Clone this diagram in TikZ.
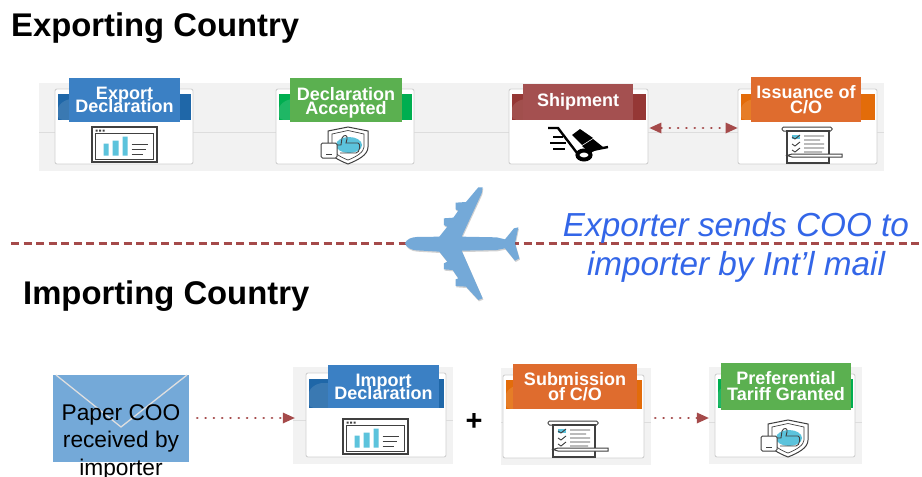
\documentclass[tikz,border=0pt]{standalone}
\usepackage{fontspec}
\setmainfont{Liberation Sans}
\usetikzlibrary{arrows.meta}
\definecolor{stripgrey}{HTML}{F2F2F2}
\definecolor{ruleg}{HTML}{DDDDDD}
\definecolor{cardedge}{HTML}{D0D0D0}
\definecolor{bandblue}{HTML}{1F67A8}
\definecolor{labblue}{HTML}{3B80C4}
\definecolor{bandgreen}{HTML}{00AE50}
\definecolor{labgreen}{HTML}{5BB050}
\definecolor{bandred}{HTML}{953735}
\definecolor{labred}{HTML}{A45050}
\definecolor{bandorange}{HTML}{E36C0A}
\definecolor{laborange}{HTML}{DF6C2E}
\definecolor{planeblue}{HTML}{74A9D8}
\definecolor{linered}{HTML}{A54A4A}
\definecolor{iconcyan}{HTML}{5CC3DC}
\definecolor{icondark}{HTML}{404040}
\definecolor{textblue}{HTML}{3366E8}
\newcommand\labelfont[1]{\bfseries\fontsize{18}{#1}\selectfont\lineskiplimit=-100pt\relax}
\tikzset{
  x=1pt,y=-1pt,
  stripbox/.style={fill=stripgrey,draw=none,inner sep=0pt},
  cardbox/.style={fill=white,draw=cardedge,line width=0.9pt,rounded corners=2pt,inner sep=0pt},
  labelbox/.style={draw=none,inner sep=0pt,text=white,align=center},
  titletext/.style={anchor=base west,inner sep=0pt,font=\bfseries\fontsize{32.8}{36}\selectfont},
  bluetext/.style={anchor=base,inner sep=0pt,text=textblue,font=\itshape\fontsize{33.3}{36}\selectfont},
  dotline/.style={draw=linered,line width=2.6pt,line cap=round,dash pattern=on 0.2pt off 8.1pt},
  redtip/.style={-{Triangle[length=12pt,width=11pt,fill=linered,color=linered,line width=0pt,sep=0pt]}},
  bothtip/.style={{Triangle[length=12pt,width=11pt,fill=linered,color=linered,line width=0pt]}-{Triangle[length=12pt,width=11pt,fill=linered,color=linered,line width=0pt]}},
  borderline/.style={draw=linered,line width=3pt,dash pattern=on 8pt off 4.5pt},
}
% name, style, x0, y0, x1, y1, content
\newcommand\rectnode[7]{\node[#2,minimum width={(#5-#3)*1pt},minimum height={(#6-#4)*1pt}] (#1) at ({(#3+#5)/2},{(#4+#6)/2}) {#7};}
\newcommand\screenicon[2]{\begin{scope}[shift={(#1,#2)}]
  \draw[icondark,line width=1.2pt,fill=white] (-32.5,-17.5) rectangle (32.5,17.5);
  \draw[icondark,line width=1.6pt] (-29,-11) rectangle (29,15);
  \fill[icondark] (-29,-15) rectangle (-27,-13) (-25.5,-15) rectangle (-23.5,-13) (-22,-15) rectangle (-20,-13);
  \fill[iconcyan] (-21,11) rectangle (-16,-1) (-12,11) rectangle (-6,-4) (-2,11) rectangle (3,-8);
  \draw[icondark,line width=1pt] (7,-0.5) -- (23,-0.5) (7,4.5) -- (21,4.5) (7,9.5) -- (18,9.5);
\end{scope}}
\newcommand\shieldicon[2]{\begin{scope}[shift={(#1,#2)}]
  \draw[icondark,line width=1pt,fill=white] (-20,-14) -- (0,-18) -- (20,-14) -- (20,2) .. controls (20,10) and (10,15) .. (0,19) .. controls (-10,15) and (-20,10) .. (-20,2) -- cycle;
  \draw[icondark,line width=0.7pt] (-16,-11) -- (0,-14.5) -- (16,-11) -- (16,2) .. controls (16,7) and (8,12) .. (0,15) .. controls (-8,12) and (-16,7) .. (-16,2) -- cycle;
  \fill[iconcyan] (1,0) ellipse (13 and 8);
  \draw[icondark,line width=0.9pt] (-11,0) -- (-7,0) -- (-6,-7) .. controls (-4,-11) and (0,-10) .. (-1,-6) -- (-2,-2) -- (10,-2) .. controls (13,-2) and (12,8) .. (8,8) -- (-8,8);
  \draw[icondark,line width=1pt,fill=white,rounded corners=1.5pt] (-27,-2) rectangle (-11,13);
  \draw[icondark,line width=0.8pt] (-22,9) -- (-16,9);
\end{scope}}
\newcommand\scrollicon[2]{\begin{scope}[shift={(#1,#2)}]
  \draw[icondark,line width=1pt,fill=white,rounded corners=1.5pt] (-26,-18) -- (24,-18) -- (24,-14) -- (-26,-14) -- cycle;
  \draw[icondark,line width=1.2pt,fill=white] (-21,-14) -- (21,-14) -- (21,18) -- (-21,18) -- cycle;
  \fill[iconcyan] (-16,-10) rectangle (-8,-6);
  \draw[icondark,line width=0.9pt] (-16,-8) -- (-13,-6) -- (-8,-10) (-16,-1) -- (-13,1) -- (-8,-3) (-16,5) -- (-13,7) -- (-8,3)
    (-4,-9) -- (16,-9) (-4,-5) -- (12,-5) (-4,-1) -- (16,-1) (-4,3) -- (16,3) (-4,7) -- (14,7);
  \draw[icondark,line width=1pt,fill=white] (-16,9) -- (34,9) -- (34,12) -- (-16,12) -- (-21,10.5) -- cycle;
\end{scope}}
\newcommand\carticon[2]{\begin{scope}[shift={(#1,#2)}]
  \fill[white] (-33,-19) rectangle (34,19);
  \draw[black,line width=2.4pt] (-30,-16) -- (-20,-16) -- (-1,9) -- (30,3);
  \fill[black] (-6,-9) -- (2,-15) -- (15,-6) -- (4,1) -- cycle;
  \fill[black] (4,2) -- (15,-5) -- (25,3) -- (12,9) -- cycle;
  \draw[black,line width=4pt,fill=white] (6,11) ellipse (6.5 and 4.5);
  \draw[black,line width=1.8pt] (-25,-7) -- (-15,-7) (-28,-1) -- (-12,-1) (-25,5) -- (-13,5);
\end{scope}}
% card: id, L,T,R,B, band colour, band top offset, band bottom offset
\newcommand\cardbase[8]{\rectnode{#1}{cardbox}{#2}{#3}{#4}{#5}{}
  \fill[#6] ({#2+2.5},{#3+#7}) rectangle ({#4-2.5},{#3+#8});
  \fill[white,opacity=0.12,rounded corners=5pt] ({#2+2.5},{#3+#8}) -- ({#2+2.5},{#3+17}) -- ({#2+12},{#3+10}) -- ({#2+30},{#3+10}) -- ({#2+30},{#3+#8}) -- cycle;}
\begin{document}
\begin{tikzpicture}
\useasboundingbox (0,0) rectangle (922,477);
\fill[white] (0,0) rectangle (922,477);

% titles
\node[titletext] (exptitle) at (11,36) {Exporting Country};
\node[titletext] (imptitle) at (23,304) {Importing Country};

% top strip
\rectnode{topstrip}{stripbox}{39}{83}{884}{171}{}
\draw[ruleg,line width=0.9pt] (39,132.5) -- (884,132.5);

\cardbase{cardA}{55}{89}{193}{164}{bandblue}{4.5}{31}
\rectnode{labA}{labelbox,fill=labblue,font=\labelfont{13}}{69}{78}{180}{122}{Export\\Declaration}
\screenicon{124.5}{144.5}

\cardbase{cardB}{276}{89}{414}{164}{bandgreen}{4.5}{31}
\rectnode{labB}{labelbox,fill=labgreen,font=\labelfont{14}}{290}{78}{402}{122}{\rule{0pt}{18pt}Declaration\\Accepted}
\shieldicon{348}{145}

\cardbase{cardC}{509}{89}{648}{164}{bandred}{4.5}{31}
\rectnode{labC}{labelbox,fill=labred,font=\labelfont{14}}{523}{84}{633}{120}{Shipment}
\carticon{578}{144}

\cardbase{cardD}{738}{89}{877}{164}{bandorange}{4.5}{31}
\rectnode{labD}{labelbox,fill=laborange,font=\labelfont{15}}{751}{77}{861}{122}{Issuance of\\C/O}
\scrollicon{808}{145}

\coordinate (cdA) at ([xshift=1pt,yshift=-1.5pt]cardC.east);
\coordinate (cdB) at ([yshift=-1.5pt]cardD.west);
\draw[dotline,bothtip] (cdA) -- (cdB);

% border line and plane
\coordinate (borderL) at (11,243);
\coordinate (borderR) at (922,243);
\draw[borderline] (borderL) -- (borderR);
\begin{scope}[shift={(390,180)},x=0.3333pt,y=-0.3333pt]
\fill[black,opacity=0.18,shift={(2,4)}] (45,190) .. controls (50,178) and (62,172) .. (80,171) -- (148,170) -- (172,140) -- (162,135) -- (162,115) -- (190,113) -- (205,92) -- (197,88) -- (197,68) -- (228,66) -- (265,22) -- (278,22) -- (275,40) -- (215,170) -- (320,172) -- (345,178) -- (372,145) -- (385,142) -- (375,190) -- (388,235) -- (375,242) -- (345,205) -- (320,210) -- (215,212) -- (278,355) -- (265,360) -- (228,320) -- (197,318) -- (197,298) -- (205,295) -- (188,270) -- (162,268) -- (162,250) -- (172,245) -- (148,215) -- (80,211) .. controls (62,210) and (50,202) .. (45,190) -- cycle;
\fill[planeblue] (45,190) .. controls (50,178) and (62,172) .. (80,171) -- (148,170) -- (172,140) -- (162,135) -- (162,115) -- (190,113) -- (205,92) -- (197,88) -- (197,68) -- (228,66) -- (265,22) -- (278,22) -- (275,40) -- (215,170) -- (320,172) -- (345,178) -- (372,145) -- (385,142) -- (375,190) -- (388,235) -- (375,242) -- (345,205) -- (320,210) -- (215,212) -- (278,355) -- (265,360) -- (228,320) -- (197,318) -- (197,298) -- (205,295) -- (188,270) -- (162,268) -- (162,250) -- (172,245) -- (148,215) -- (80,211) .. controls (62,210) and (50,202) .. (45,190) -- cycle;
\end{scope}
\node[bluetext] (bluea) at (736,236) {Exporter sends COO to};
\node[bluetext] (blueb) at (736,275) {importer by Int’l mail};

% envelope
\rectnode{envelope}{fill=planeblue,draw=none,inner sep=0pt}{53}{375}{189}{462}{}
\draw[white!75!gray,line width=1.3pt] (56,375) -- (121,427) -- (187,375);
\node[anchor=base,inner sep=0pt,align=center,font=\fontsize{22.7}{27.5}\selectfont,text=black] (envtext) at (121,475) {Paper COO\\received by\\importer};

% lower strips
\rectnode{stripE}{stripbox}{293}{367}{453}{464}{}
\rectnode{stripF}{stripbox}{501}{368}{651}{465}{}
\rectnode{stripG}{stripbox}{709}{367}{862}{464}{}
\draw[ruleg,line width=0.9pt] (293,420) -- (453,420) (501,422) -- (651,422) (709,422) -- (862,422);

\cardbase{cardE}{306}{373}{446}{457}{bandblue}{6}{35}
\rectnode{labE}{labelbox,fill=labblue,font=\labelfont{13}}{328}{365}{439}{408}{Import\\Declaration}
\screenicon{375.5}{436.5}

\cardbase{cardF}{503}{375}{644}{458}{bandorange}{5}{34}
\rectnode{labF}{labelbox,fill=laborange,font=\labelfont{15}}{513}{364}{637}{409}{Submission\\of C/O}
\scrollicon{574}{439}

\cardbase{cardG}{715}{374}{855}{457}{bandgreen}{5}{34}
\rectnode{labG}{labelbox,fill=labgreen,font=\labelfont{16}}{721}{363}{851}{410}{Preferential\\Tariff Granted}
\shieldicon{788}{438}

\node[inner sep=0pt,font=\bfseries\fontsize{29}{30}\selectfont] (plus) at (474,422) {+};

\coordinate (envOut) at ([xshift=8pt]envelope.east |- stripE.west);
\coordinate (envIn) at ([xshift=2pt,yshift=-2.5pt]stripE.west);
\draw[dotline,redtip] ([yshift=-2.5pt]envOut) -- (envIn);
\coordinate (subOut) at ([xshift=4pt,yshift=-1.5pt]stripF.east);
\draw[dotline,redtip] (subOut) -- (stripG.west |- subOut);
\end{tikzpicture}
\end{document}
